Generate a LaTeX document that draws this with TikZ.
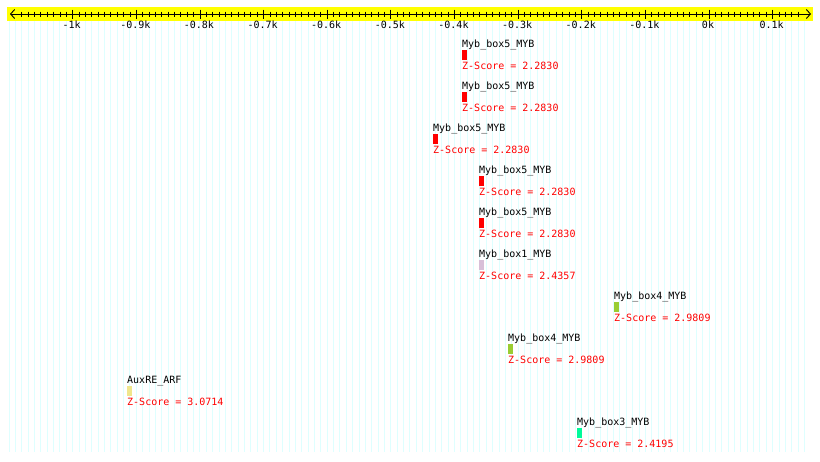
\documentclass[tikz,border=0pt]{standalone}
\usepackage{fontspec}
\setmonofont{DejaVu Sans Mono}
\usetikzlibrary{arrows.meta}
\definecolor{gridc}{RGB}{222,255,255}
\definecolor{axisyellow}{RGB}{255,255,0}
\definecolor{zred}{RGB}{255,0,0}
\definecolor{cmybfive}{RGB}{255,0,0}
\definecolor{cmybone}{RGB}{216,191,216}
\definecolor{cmybfour}{RGB}{154,205,50}
\definecolor{cmybthree}{RGB}{0,250,154}
\definecolor{cauxre}{RGB}{240,230,140}
\tikzset{
  lbl/.style={font=\ttfamily\fontsize{10}{10}\selectfont, inner sep=0pt, anchor=base west, text=black},
  zlbl/.style={lbl, text=zred},
  axlbl/.style={font=\ttfamily\fontsize{10}{10}\selectfont, inner sep=0pt, anchor=base},
  sitebox/.style={draw=none, inner sep=0pt, minimum width=5pt, minimum height=10pt, anchor=north west},
  gridline/.style={draw=gridc, line width=1pt},
  tickline/.style={draw=black, line width=0.9pt},
}
\begin{document}
\begin{tikzpicture}[x=1pt,y=-1pt]
\useasboundingbox (0,0) rectangle (820,461);
\fill[white] (0,0) rectangle (820,461);
% grid
\foreach \v in {-1100,-1090,...,150}{
  \pgfmathsetmacro{\xx}{709+0.6363*\v}
  \draw[gridline] (\xx,21) -- (\xx,452);
}
% axis band
\fill[axisyellow] (7,7) rectangle (813,20.7);
\coordinate (axL) at (10,14);
\coordinate (axR) at (811,14);
\draw[line width=0.9pt,{Straight Barb[length=4pt,width=9pt]}-{Straight Barb[length=4pt,width=9pt]}] (axL) -- (axR);
\foreach \v in {-1080,-1070,...,140}{
  \pgfmathsetmacro{\xx}{709+0.6363*\v}
  \draw[tickline] (\xx,11.5) -- (\xx,16.5);
}
\foreach \v/\t in {-1000/-1k,-900/-0.9k,-800/-0.8k,-700/-0.7k,-600/-0.6k,-500/-0.5k,-400/-0.4k,-300/-0.3k,-200/-0.2k,-100/-0.1k,0/0k,100/0.1k}{
  \pgfmathsetmacro{\xx}{709+0.6363*\v}
  \draw[tickline] (\xx,9.5) -- (\xx,18.5);
  \node[axlbl] (ax\v) at (\xx-1,28) {\t};
}
% features: name, x, row, colour, score
\foreach \nm/\xx/\r/\c/\s [count=\i] in {
  Myb\_box5\_MYB/462/0/cmybfive/2.2830,
  Myb\_box5\_MYB/462/1/cmybfive/2.2830,
  Myb\_box5\_MYB/433/2/cmybfive/2.2830,
  Myb\_box5\_MYB/479/3/cmybfive/2.2830,
  Myb\_box5\_MYB/479/4/cmybfive/2.2830,
  Myb\_box1\_MYB/479/5/cmybone/2.4357,
  Myb\_box4\_MYB/614/6/cmybfour/2.9809,
  Myb\_box4\_MYB/508/7/cmybfour/2.9809,
  AuxRE\_ARF/127/8/cauxre/3.0714,
  Myb\_box3\_MYB/577/9/cmybthree/2.4195}{
  \node[lbl] (name\i) at (\xx,47.5+42*\r) {\nm};
  \node[sitebox, fill=\c] (site\i) at (\xx,49.5+42*\r) {};
  \node[zlbl] (score\i) at (\xx,69.5+42*\r) {Z-Score = \s};
}
\end{tikzpicture}
\end{document}
